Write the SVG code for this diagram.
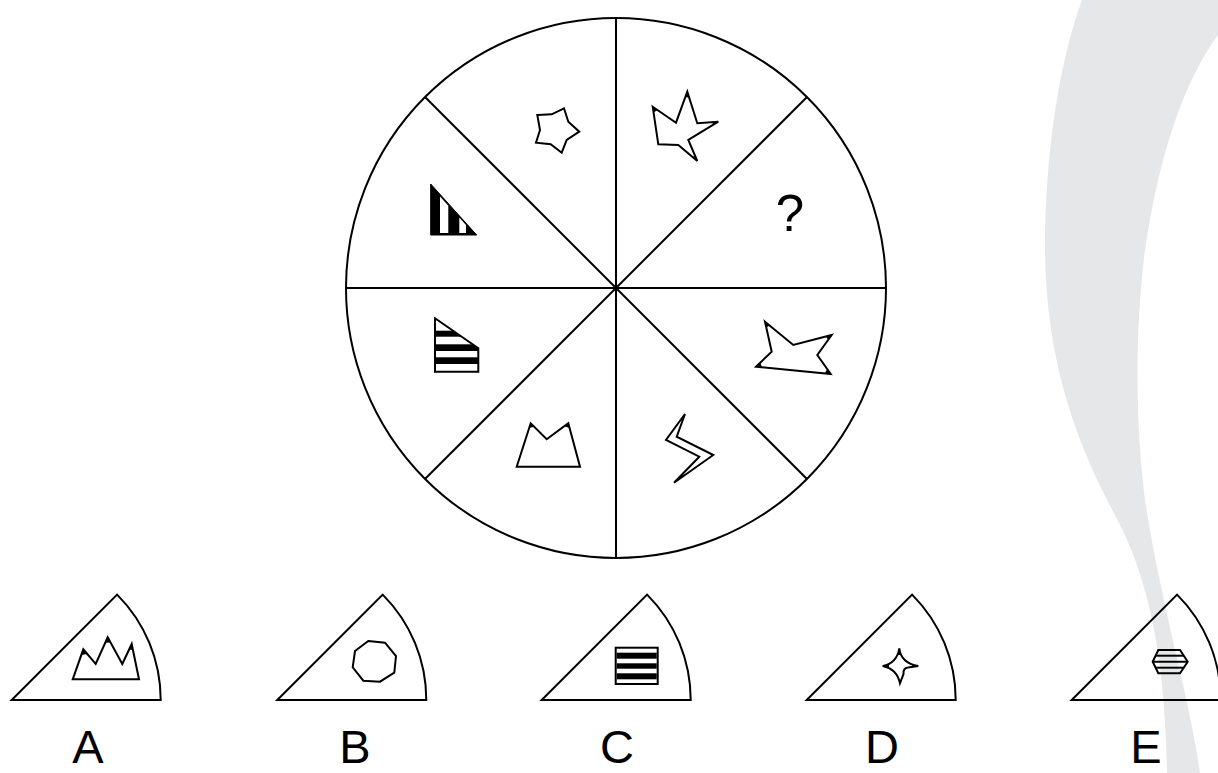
<svg xmlns="http://www.w3.org/2000/svg" width="1218" height="773" viewBox="0 0 1218 773">
<style>
.ln{fill:none;stroke:#000;stroke-width:2}
.sh{fill:#fff;stroke:#000;stroke-width:2;stroke-linejoin:miter}
.tip{fill:#000;stroke:none}
.lbl{font-family:"Liberation Sans",Arial,sans-serif;font-size:47px;fill:#000;text-anchor:middle}
</style>
<defs>
<clipPath id="trap"><polygon points="435,318.3 478.3,348.3 478.3,371.7 435,371.7"/></clipPath>
</defs>
<rect width="1218" height="773" fill="#fff"/>
<path id="swoosh" d="M1082,0 C1060,60 1045,150 1045,250 C1046,360 1075,440 1115,515 C1150,580 1165,660 1167,773 L1200,773 C1190,700 1160,600 1145,500 C1135,420 1135,330 1145,250 C1160,150 1185,80 1218,35 L1218,0 Z" fill="#e6e7e9"/>
<g id="wheel">
<circle class="ln" cx="616" cy="288" r="270"/>
<line class="ln" x1="616" y1="18" x2="616" y2="558"/>
<line class="ln" x1="346" y1="288" x2="886" y2="288"/>
<line class="ln" x1="425" y1="97" x2="807" y2="479"/>
<line class="ln" x1="807" y1="97" x2="425" y2="479"/>
</g>
<g id="cell-star">
<polygon class="sh" points="537.3,115 551.7,114.3 564,108.3 568.3,121.7 579.3,131.7 566.7,140 561.7,152.7 550.7,144.3 536,142.7 540,130"/>
</g>
<g id="cell-star2">
<polygon class="sh" points="652.7,106.7 676,122.7 687.3,91.7 697.3,123.3 718.3,121.7 688.3,140 697.3,161 678.3,145 658.3,144.3"/>
<polygon class="tip" points="687.3,91.7 685.3,97.3 689.1,97.4"/>
<polygon class="tip" points="718.3,121.7 712.3,122.2 713.2,124.8"/>
<polygon class="tip" points="697.3,161 694.9,155.5 692.7,157.1"/>
<polygon class="tip" points="652.7,106.7 657.6,110.1 653.6,112.6"/>
</g>
<g id="cell-question">
<text class="lbl" x="790" y="231" style="font-size:51px">?</text>
</g>
<g id="cell-shape-right">
<polygon class="sh" points="765,321.7 793.3,345 831.7,335 817.3,355 830.7,374 756,366.7 771.7,351.7"/>
<polygon class="tip" points="765,321.7 769.6,325.5 766.3,327.6"/>
<polygon class="tip" points="831.7,335 825.9,336.5 828.2,339.9"/>
<polygon class="tip" points="830.7,374 827.2,369.1 824.7,373.4"/>
<polygon class="tip" points="756,366.7 762,367.3 760.3,362.5"/>
</g>
<g id="cell-bolt">
<polygon class="sh" points="685,414 666,440 699.3,456.7 674,482.7 713.3,455 676.7,436.7"/>
</g>
<g id="cell-crown">
<polygon class="sh" points="516.7,466.7 530.7,423.3 546.7,439.3 568.3,423.3 580,466.7"/>
<polygon class="tip" points="530.7,423.3 529.2,428.1 534.2,426.8"/>
<polygon class="tip" points="568.3,423.3 564.3,426.3 569.6,428.1"/>
</g>
<g id="cell-hstripes">
<polygon points="435,318.3 478.3,348.3 478.3,371.7 435,371.7" fill="#fff"/>
<g clip-path="url(#trap)">
<rect x="435" y="330.7" width="43.3" height="6" fill="#000"/>
<rect x="435" y="344.3" width="43.3" height="6.7" fill="#000"/>
<rect x="435" y="357.3" width="43.3" height="6.7" fill="#000"/>
</g>
<polygon class="ln" points="435,318.3 478.3,348.3 478.3,371.7 435,371.7"/>
</g>
<g id="cell-vstripes">
<polygon points="430.7,184 476.7,235 430.7,235" fill="#000" stroke="#000" stroke-width="1"/>
<polygon points="440,196.5 448.3,205.8 448.3,233 440,233" fill="#fff"/>
<polygon points="459.3,217.5 466,225 466,233 459.3,233" fill="#fff"/>
</g>
<g id="option-A">
<path class="ln" d="M11.7,700 L117.1,594.6 A149,149 0 0 1 160.7,700 Z"/>
<polygon class="sh" points="72.7,679.3 83.3,649.3 95.7,664 107.7,637.3 122.3,664 131.7,644 139,679.3"/>
<polygon class="tip" points="83.3,649.3 81.3,655 87.2,653.9"/>
<polygon class="tip" points="107.7,637.3 105.2,642.8 110.6,642.6"/>
<polygon class="tip" points="131.7,644 129.2,649.4 132.9,649.9"/>
<text class="lbl" x="88" y="763">A</text>
</g>
<g id="option-B">
<path class="ln" d="M277.3,700 L382.7,594.6 A149,149 0 0 1 426.3,700 Z"/>
<polygon class="sh" points="368.3,641 385,642.7 396,656 394.3,672.7 380,681.7 363.3,680.7 352.7,667.3 355,651"/>
<text class="lbl" x="355" y="763">B</text>
</g>
<g id="option-C">
<path class="ln" d="M541.7,700 L647.1,594.6 A149,149 0 0 1 690.7,700 Z"/>
<rect x="615.7" y="647.7" width="42" height="36.3" fill="#fff" stroke="#000" stroke-width="2"/>
<rect x="616.7" y="652.7" width="40" height="6" fill="#000"/>
<rect x="616.7" y="663.3" width="40" height="5.4" fill="#000"/>
<rect x="616.7" y="673.3" width="40" height="6" fill="#000"/>
<text class="lbl" x="617" y="763">C</text>
</g>
<g id="option-D">
<path class="ln" d="M806.7,700 L912.1,594.6 A149,149 0 0 1 955.7,700 Z"/>
<path class="sh" d="M899.3,648.3 Q901,663 918.3,666 L908,667.5 Q903,668 903.5,674 L900,683.3 Q897,669 882.7,666 Q897,663 899.3,648.3 Z"/>
<polygon class="tip" points="899.3,648.3 897.9,655 900.9,655"/>
<polygon class="tip" points="918.3,666 912,664.6 912,667"/>
<polygon class="tip" points="882.7,666 889,664.6 889,667.3"/>
<text class="lbl" x="882" y="763">D</text>
</g>
<g id="option-E">
<path class="ln" d="M1071.7,700 L1177.1,594.6 A149,149 0 0 1 1220.7,700 Z"/>
<polygon class="ln" points="1152.7,661.7 1158.3,650 1180,650 1187.7,661.7 1180,673.3 1158.3,673.3" stroke-width="1.6"/>
<line class="ln" x1="1155.6" y1="655.7" x2="1183.8" y2="655.7" stroke-width="1.6"/>
<line class="ln" x1="1152.7" y1="661.7" x2="1187.7" y2="661.7" stroke-width="1.6"/>
<line class="ln" x1="1155.6" y1="667.7" x2="1183.8" y2="667.7" stroke-width="1.6"/>
<text class="lbl" x="1146" y="763">E</text>
</g>
</svg>
